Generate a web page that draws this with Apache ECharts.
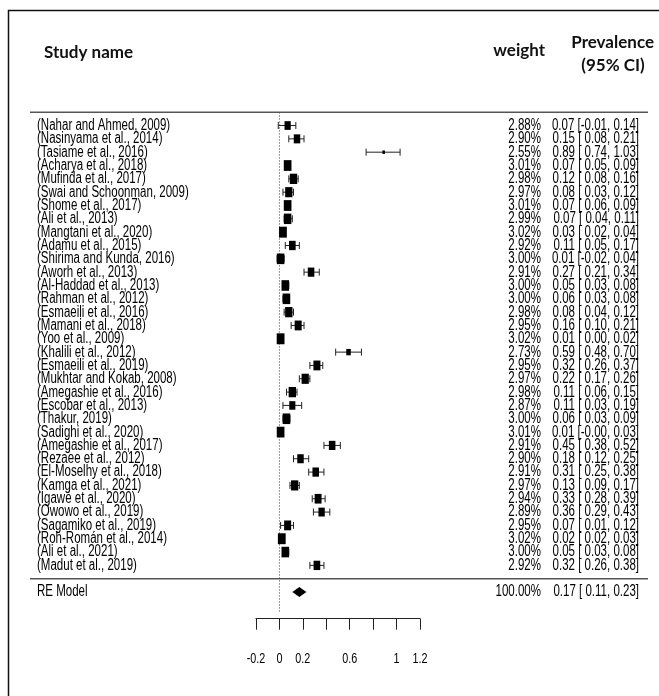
<!DOCTYPE html>
<html><head><meta charset="utf-8">
<script src="https://cdn.jsdelivr.net/npm/echarts@6/dist/echarts.min.js"></script>
<style>html,body{margin:0;padding:0;background:#fff}#c{width:659px;height:696px}</style>
</head><body><div id="c"></div>
<script>
const studies = [
  '(Nahar and Ahmed, 2009)', '(Nasinyama et al., 2014)', '(Tasiame et al., 2016)', '(Acharya et al., 2018)',
  '(Mufinda et al., 2017)', '(Swai and Schoonman, 2009)', '(Shome et al., 2017)', '(Ali et al., 2013)',
  '(Mangtani et al., 2020)', '(Adamu et al., 2015)', '(Shirima and Kunda, 2016)', '(Aworh et al., 2013)',
  '(Al-Haddad et al., 2013)', '(Rahman et al., 2012)', '(Esmaeili et al., 2016)', '(Mamani et al., 2018)',
  '(Yoo et al., 2009)', '(Khalili et al., 2012)', '(Esmaeili et al., 2019)', '(Mukhtar and Kokab, 2008)',
  '(Amegashie et al., 2016)', '(Escobar et al., 2013)', '(Thakur, 2019)', '(Sadighi et al., 2020)',
  '(Amegashie et al., 2017)', '(Rezaee et al., 2012)', '(El-Moselhy et al., 2018)', '(Kamga et al., 2021)',
  '(Igawe et al., 2020)', '(Owowo et al., 2019)', '(Sagamiko et al., 2019)', '(Roh-Román et al., 2014)',
  '(Ali et al., 2021)', '(Madut et al., 2019)'
];
const weights = [2.88, 2.90, 2.55, 3.01, 2.98, 2.97, 3.01, 2.99, 3.02, 2.92, 3.00, 2.91, 3.00, 3.00, 2.98, 2.95, 3.02,
  2.73, 2.95, 2.97, 2.98, 2.87, 3.00, 3.01, 2.91, 2.90, 2.91, 2.97, 2.94, 2.89, 2.95, 3.02, 3.00, 2.92];
const estimates = [0.07, 0.15, 0.89, 0.07, 0.12, 0.08, 0.07, 0.07, 0.03, 0.11, 0.01, 0.27, 0.05, 0.06, 0.08, 0.16, 0.01,
  0.59, 0.32, 0.22, 0.11, 0.11, 0.06, 0.01, 0.45, 0.18, 0.31, 0.13, 0.33, 0.36, 0.07, 0.02, 0.05, 0.32];
const lowerCI = [-0.01, 0.08, 0.74, 0.05, 0.08, 0.03, 0.06, 0.04, 0.02, 0.05, -0.02, 0.21, 0.03, 0.03, 0.04, 0.10, 0.00,
  0.48, 0.26, 0.17, 0.06, 0.03, 0.03, -0.00, 0.38, 0.12, 0.25, 0.09, 0.28, 0.29, 0.01, 0.02, 0.03, 0.26];
const upperCI = [0.14, 0.21, 1.03, 0.09, 0.16, 0.12, 0.09, 0.11, 0.04, 0.17, 0.04, 0.34, 0.08, 0.08, 0.12, 0.21, 0.02,
  0.70, 0.37, 0.26, 0.15, 0.19, 0.09, 0.03, 0.52, 0.25, 0.38, 0.17, 0.39, 0.43, 0.12, 0.03, 0.08, 0.38];
const summaryName = 'RE Model';
const summaryWeight = [100.00];
const summaryEst = [0.17];
const summaryLower = [0.11];
const summaryUpper = [0.23];
const tickLabels = [-0.2, 0, 0.2, 0.6, 1, 1.2];

const ROW_FONT = '16px "Liberation Sans", Arial, sans-serif';
const SQUEEZE = 0.72;
const NAME_X = 37, WEIGHT_X = 541, CI_X = 639;
const SUMMARY_ROW = 35;
const TICK_LABEL_ROW = 40;

function fmtLo(v) { const neg = v < 0 || Object.is(v, -0); return (neg ? '-' : ' ') + Math.abs(v).toFixed(2); }
function ciText(e, l, u) { return e.toFixed(2) + ' [' + fmtLo(l) + ', ' + u.toFixed(2) + ']'; }
function sqText(x, y, text, align, font) {
  return { type: 'text', x: x, y: y, scaleX: SQUEEZE,
    style: { x: 0, y: 0, text: text, font: font || ROW_FONT, fill: '#000', align: align, verticalAlign: 'middle' } };
}
const wMin = Math.min(...weights), wMax = Math.max(...weights);
function boxWidth(w) { return 2.5 + (w - wMin) / (wMax - wMin) * 5.3; }

const studyData = studies.map((s, i) => [estimates[i], lowerCI[i], upperCI[i], i, weights[i]]);
const summaryData = summaryEst.map((e, i) => [e, summaryLower[i], summaryUpper[i], SUMMARY_ROW, summaryWeight[i]]);
const tickData = tickLabels.map(t => [t, TICK_LABEL_ROW]);

const chart = echarts.init(document.getElementById('c'), null, { renderer: 'canvas' });
chart.setOption({
  animation: false,
  backgroundColor: '#fff',
  grid: { left: 256, width: 164, top: 112.2, height: 506.5 },
  xAxis: {
    type: 'value', min: -0.2, max: 1.2, interval: 0.2, position: 'bottom',
    splitLine: { show: false },
    axisLine: { onZero: false, lineStyle: { color: '#222', width: 1 } },
    axisTick: { length: 11, lineStyle: { color: '#222', width: 1 } },
    axisLabel: { show: false }
  },
  yAxis: { type: 'value', inverse: true, min: -1, max: 37, show: false },
  graphic: [
    { type: 'rect', shape: { x: 8.5, y: 10.5, width: 700, height: 700 }, style: { fill: 'none', stroke: '#111', lineWidth: 1.5 }, z: 10 },
    { type: 'text', x: 44, y: 53, style: { text: 'Study name', font: 'bold 17px Lato, "Open Sans", sans-serif', fill: '#111', align: 'left', verticalAlign: 'middle' } },
    { type: 'text', x: 545, y: 51, style: { text: 'weight', font: 'bold 17px Lato, "Open Sans", sans-serif', fill: '#111', align: 'right', verticalAlign: 'middle' } },
    { type: 'text', x: 654, y: 43, style: { text: 'Prevalence', font: 'bold 17px Lato, "Open Sans", sans-serif', fill: '#111', align: 'right', verticalAlign: 'middle' } },
    { type: 'text', x: 613, y: 66, style: { text: '(95% CI)', font: 'bold 17px Lato, "Open Sans", sans-serif', fill: '#111', align: 'center', verticalAlign: 'middle' } }
  ],
  series: [
    {
      type: 'custom', clip: false, silent: true,
      data: [[0, -1, 34]],
      encode: { x: 0, y: 1 },
      renderItem: function (params, api) {
        const top = api.coord([0, api.value(1)]);
        const bot = api.coord([0, 36.55]);
        const sep = api.coord([0, api.value(2)]);
        return { type: 'group', children: [
          { type: 'line', shape: { x1: top[0], y1: top[1], x2: bot[0], y2: bot[1] }, style: { stroke: '#777', lineWidth: 1, lineDash: [1.5, 1.5] } },
          { type: 'line', shape: { x1: 30, y1: top[1], x2: 648, y2: top[1] }, style: { stroke: '#555', lineWidth: 1.5 } },
          { type: 'line', shape: { x1: 30, y1: sep[1], x2: 648, y2: sep[1] }, style: { stroke: '#555', lineWidth: 1.5 } }
        ] };
      }
    },
    {
      type: 'custom', clip: false, silent: true,
      data: tickData,
      encode: { x: 0, y: 1 },
      renderItem: function (params, api) {
        const v = api.value(0);
        const p = api.coord([v, api.value(1)]);
        return sqText(p[0], p[1], String(+(+v).toFixed(1)), 'center', '15px "Liberation Sans", Arial, sans-serif');
      }
    },
    {
      type: 'custom', clip: false, silent: true,
      data: studyData,
      encode: { x: [0, 1, 2], y: 3 },
      renderItem: function (params, api) {
        const i = params.dataIndex;
        const e = api.value(0), l = api.value(1), u = api.value(2), r = api.value(3), w = api.value(4);
        const pe = api.coord([e, r]), pl = api.coord([l, r]), pu = api.coord([u, r]);
        const bw = boxWidth(w), bh = bw * 1.4;
        const y = pe[1];
        const ln = { stroke: '#222', lineWidth: 1 };
        return { type: 'group', children: [
          { type: 'line', shape: { x1: pl[0], y1: y, x2: pu[0], y2: y }, style: ln },
          { type: 'line', shape: { x1: pl[0], y1: y - 3.5, x2: pl[0], y2: y + 3.5 }, style: ln },
          { type: 'line', shape: { x1: pu[0], y1: y - 3.5, x2: pu[0], y2: y + 3.5 }, style: ln },
          { type: 'rect', shape: { x: pe[0] - bw / 2, y: y - bh / 2, width: bw, height: bh }, style: { fill: '#000' } },
          sqText(NAME_X, y, studies[i], 'left'),
          sqText(WEIGHT_X, y, w.toFixed(2) + '%', 'right'),
          sqText(CI_X, y, ciText(e, l, u), 'right')
        ] };
      }
    },
    {
      type: 'custom', clip: false, silent: true,
      data: summaryData,
      encode: { x: [0, 1, 2], y: 3 },
      renderItem: function (params, api) {
        const e = api.value(0), l = api.value(1), u = api.value(2), r = api.value(3), w = api.value(4);
        const pe = api.coord([e, r]), pl = api.coord([l, r]), pu = api.coord([u, r]);
        const y = pe[1];
        return { type: 'group', children: [
          { type: 'polygon', shape: { points: [[pl[0], y], [pe[0], y - 5], [pu[0], y], [pe[0], y + 5]] }, style: { fill: '#000' } },
          sqText(NAME_X, y, summaryName, 'left'),
          sqText(WEIGHT_X, y, w.toFixed(2) + '%', 'right'),
          sqText(CI_X, y, ciText(e, l, u), 'right')
        ] };
      }
    }
  ]
});
</script></body></html>
